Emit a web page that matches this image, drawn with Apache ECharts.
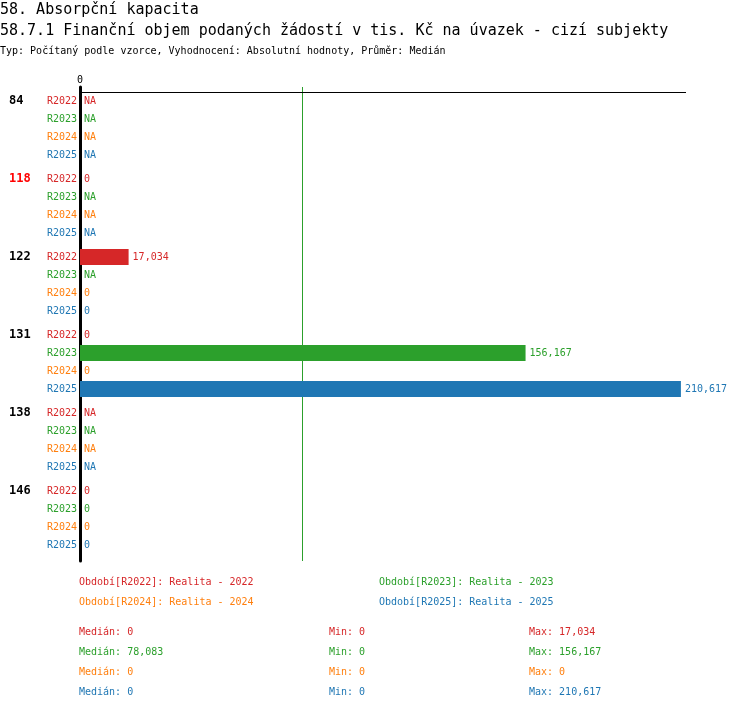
<!DOCTYPE html>
<html>
<head>
<meta charset="utf-8">
<script src="https://cdn.jsdelivr.net/npm/echarts@6.0.0/dist/echarts.min.js"></script>
<style>
  html, body { margin: 0; padding: 0; background: #fff; }
  #chart { width: 750px; height: 710px; }
</style>
</head>
<body>
<div id="chart"></div>
<script>
// data
const groups = ['84', '118', '122', '131', '138', '146'];
const highlightGroup = '118';
const periods = ['R2022', 'R2023', 'R2024', 'R2025'];
const periodNames = ['Realita - 2022', 'Realita - 2023', 'Realita - 2024', 'Realita - 2025'];
const colors = ['#d62728', '#2ca02c', '#ff7f0e', '#1f77b4'];
// null = NA
const r2022 = [null, 0, 17034, 0, null, 0];
const r2023 = [null, null, null, 156167, null, 0];
const r2024 = [null, null, 0, 0, null, 0];
const r2025 = [null, null, 0, 210617, null, 0];
const medians = [0, 78083, 0, 0];
const mins = [0, 0, 0, 0];
const maxs = [17034, 156167, 0, 210617];

const values = [r2022, r2023, r2024, r2025];

// row layout on the y value axis (1 unit = 2px)
const GROUP_STEP = 39;
const ROW_STEP = 9;
const ROW_OFFSET = 7;
const Y_MAX = 237;
const X_MAX = 212400;
const FONT = '"DejaVu Sans Mono", monospace';

function rowPos(g, r) {
    return g * GROUP_STEP + r * ROW_STEP + ROW_OFFSET;
}

function fmt(v) {
    return Number(v).toLocaleString('en-US');
}

// lookup for axis labels
const periodLabelAt = {};
const groupLabelAt = {};
groups.forEach((g, gi) => {
    periods.forEach((p, pi) => {
        periodLabelAt[rowPos(gi, pi)] = '{p' + pi + '|' + p + '}';
    });
    groupLabelAt[rowPos(gi, 0)] = (g === highlightGroup ? '{h|' : '{g|') + g + '}';
});

function renderRow(params, api) {
    const v = api.value(0);
    const y = api.value(1);
    const na = api.value(2) === 1;
    const p0 = api.coord([0, y]);
    const p1 = api.coord([v, y]);
    const h = api.size([0, ROW_STEP])[1] * 0.89;
    const color = api.visual('color');
    const children = [];
    if (p1[0] > p0[0]) {
        children.push({
            type: 'rect',
            shape: { x: p0[0], y: p0[1] - h / 2, width: p1[0] - p0[0], height: h },
            style: { fill: color }
        });
    }
    children.push({
        type: 'text',
        x: p1[0] + 4,
        y: p0[1],
        style: {
            text: na ? 'NA' : fmt(v),
            fill: color,
            font: '10px ' + FONT,
            align: 'left',
            verticalAlign: 'middle'
        }
    });
    return { type: 'group', children: children };
}

// vertical median line over the whole plot height, snapped to a pixel
function renderMedian(params, api) {
    const cs = params.coordSys;
    const x = Math.round(api.coord([api.value(0), 0])[0]) - 0.5;
    return {
        type: 'line',
        shape: { x1: x, y1: cs.y, x2: x, y2: cs.y + cs.height },
        style: { stroke: colors[api.value(1)], lineWidth: 1 }
    };
}

const series = periods.map((p, pi) => ({
    name: p,
    type: 'custom',
    renderItem: renderRow,
    itemStyle: { color: colors[pi] },
    dimensions: ['value', 'row', 'na'],
    encode: { x: 0, y: 1 },
    data: groups.map((g, gi) => {
        const v = values[pi][gi];
        return [v == null ? 0 : v, rowPos(gi, pi), v == null ? 1 : 0];
    }),
    z: 3
}));

// median lines (zero medians sit under the axis line, so skip them)
series.push({
    type: 'custom',
    renderItem: renderMedian,
    encode: { x: 0 },
    data: medians.map((m, i) => [m, i]).filter(d => d[0] > 0),
    z: 2
});

// top horizontal axis line (y = 92.5px)
series.push({
    type: 'line',
    data: [],
    markLine: {
        silent: true,
        symbol: 'none',
        label: { show: false },
        lineStyle: { color: '#000', width: 1, type: 'solid' },
        data: [{ yAxis: 2.75 }]
    }
});

const richPeriods = {};
colors.forEach((c, i) => {
    richPeriods['p' + i] = { color: c, fontSize: 10, fontFamily: FONT };
});

function txt(x, y, text, color, size) {
    return {
        type: 'text', x: x, y: y,
        style: { text: text, fill: color, font: size + 'px ' + FONT, align: 'left', verticalAlign: 'middle' }
    };
}

// titles and texts below the chart
const graphics = [
    txt(0, 10, '58. Absorpční kapacita', '#000', 15),
    txt(0, 31, '58.7.1 Finanční objem podaných žádostí v tis. Kč na úvazek - cizí subjekty', '#000', 15),
    txt(0, 51, 'Typ: Počítaný podle vzorce, Vyhodnocení: Absolutní hodnoty, Průměr: Medián', '#000', 10)
];
const legendX = [79, 379, 79, 379];
const legendY = [582, 582, 602, 602];
periods.forEach((p, i) => {
    graphics.push(txt(legendX[i], legendY[i], 'Období[' + p + ']: ' + periodNames[i], colors[i], 10));
    const y = 632 + i * 20;
    graphics.push(txt(79, y, 'Medián: ' + fmt(medians[i]), colors[i], 10));
    graphics.push(txt(329, y, 'Min: ' + fmt(mins[i]), colors[i], 10));
    graphics.push(txt(529, y, 'Max: ' + fmt(maxs[i]), colors[i], 10));
});

const chart = echarts.init(document.getElementById('chart'));
chart.setOption({
    backgroundColor: '#fff',
    animation: false,
    grid: { left: 80, right: 64, top: 87, bottom: 149, containLabel: false },
    xAxis: {
        type: 'value',
        position: 'top',
        min: 0,
        max: X_MAX,
        interval: X_MAX,
        axisLine: { show: false },
        axisTick: { show: false },
        splitLine: { show: false },
        axisLabel: {
            margin: 2,
            color: '#000',
            fontSize: 10,
            fontFamily: FONT,
            formatter: v => (v === 0 ? '0' : '')
        }
    },
    yAxis: [
        {
            type: 'value',
            inverse: true,
            min: 0,
            max: Y_MAX,
            interval: 1,
            position: 'left',
            axisLine: { show: true, lineStyle: { color: '#000', width: 3 } },
            axisTick: { show: false },
            splitLine: { show: false },
            axisLabel: {
                margin: 3,
                fontSize: 10,
                fontFamily: FONT,
                formatter: v => periodLabelAt[v] || '',
                rich: richPeriods
            }
        },
        {
            type: 'value',
            inverse: true,
            min: 0,
            max: Y_MAX,
            interval: 1,
            position: 'left',
            offset: 71,
            axisLine: { show: false },
            axisTick: { show: false },
            splitLine: { show: false },
            axisLabel: {
                margin: 0,
                align: 'left',
                formatter: v => groupLabelAt[v] || '',
                rich: {
                    g: { color: '#000', fontSize: 12, fontWeight: 'bold', fontFamily: FONT },
                    h: { color: '#ff0000', fontSize: 12, fontWeight: 'bold', fontFamily: FONT }
                }
            }
        }
    ],
    graphic: graphics,
    series: series
});
</script>
</body>
</html>
